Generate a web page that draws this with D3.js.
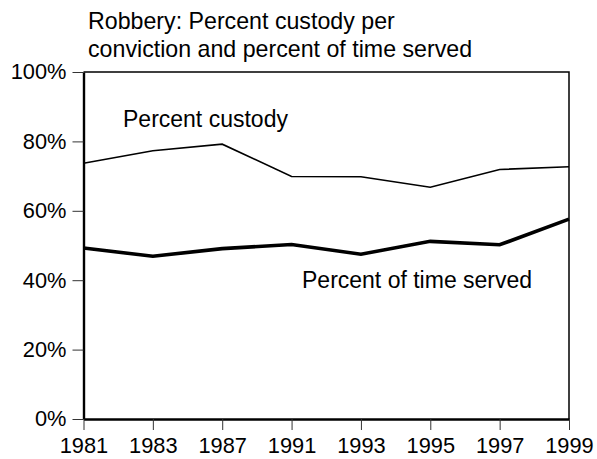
<!DOCTYPE html>
<html>
<head>
<meta charset="utf-8">
<script src="https://cdn.jsdelivr.net/npm/d3@7"></script>
<style>
  body { margin: 0; background: #fff; }
  svg { display: block; font-family: "Liberation Sans", Arial, sans-serif; }
</style>
</head>
<body>
<svg width="597" height="459"></svg>
<script>
const years = ["1981", "1983", "1987", "1991", "1993", "1995", "1997", "1999"];
const custody = [73.7, 77.3, 79.2, 69.9, 69.8, 66.8, 71.9, 72.7];
const timeServed = [49.3, 46.9, 49.1, 50.3, 47.5, 51.2, 50.2, 57.6];
const yTicks = [0, 20, 40, 60, 80, 100];
const titleLines = ["Robbery: Percent custody per", "conviction and percent of time served"];

const svg = d3.select("svg");
const margin = { top: 72, right: 28, bottom: 40, left: 83.5 };
const width = +svg.attr("width") - margin.left - margin.right;
const height = +svg.attr("height") - margin.top - margin.bottom;

const x = d3.scalePoint().domain(years).range([0, width]).padding(0);
const y = d3.scaleLinear().domain([0, 100]).range([height, 0]);

const g = svg.append("g").attr("transform", `translate(${margin.left},${margin.top})`);

// title
svg.append("text")
  .attr("x", 88)
  .attr("y", 29)
  .attr("font-size", "23.2px")
  .selectAll("tspan")
  .data(titleLines)
  .enter()
  .append("tspan")
  .attr("x", 88)
  .attr("dy", (d, i) => (i === 0 ? 0 : 28))
  .text((d) => d);

// top and right frame (thin)
g.append("path")
  .attr("d", `M${x(years[0])},${y(100)}H${x(years[years.length - 1])}V${y(0)}`)
  .attr("fill", "none")
  .attr("stroke", "#000")
  .attr("stroke-width", 1.5);

const yAxis = d3.axisLeft(y)
  .tickValues(yTicks)
  .tickFormat((d) => d + "%")
  .tickSize(11)
  .tickSizeOuter(0)
  .tickPadding(6);

const xAxis = d3.axisBottom(x)
  .tickSize(11)
  .tickSizeOuter(0)
  .tickPadding(8);

const gy = g.append("g").attr("class", "axis axis--y").call(yAxis);
const gx = g.append("g").attr("class", "axis axis--x")
  .attr("transform", "translate(0," + height + ")")
  .call(xAxis);

[gx, gy].forEach((a) => {
  a.select(".domain").attr("stroke", "#000").attr("stroke-width", 2.4);
  a.selectAll(".tick line").attr("stroke", "#333").attr("stroke-width", 1);
  a.selectAll(".tick text")
    .attr("fill", "#000")
    .attr("font-size", "21.8px")
    .attr("font-family", "Liberation Sans, Arial, sans-serif");
});

const line = d3.line()
  .x((d, i) => x(years[i]))
  .y((d) => y(d));

g.append("path")
  .datum(custody)
  .attr("fill", "none")
  .attr("stroke", "#000")
  .attr("stroke-width", 1.6)
  .attr("d", line);

g.append("path")
  .datum(timeServed)
  .attr("fill", "none")
  .attr("stroke", "#000")
  .attr("stroke-width", 3.6)
  .attr("d", line);

// series labels
svg.append("text")
  .attr("x", 123)
  .attr("y", 127)
  .attr("font-size", "23px")
  .text("Percent custody");

svg.append("text")
  .attr("x", 302)
  .attr("y", 288)
  .attr("font-size", "23px")
  .text("Percent of time served");
</script>
</body>
</html>
